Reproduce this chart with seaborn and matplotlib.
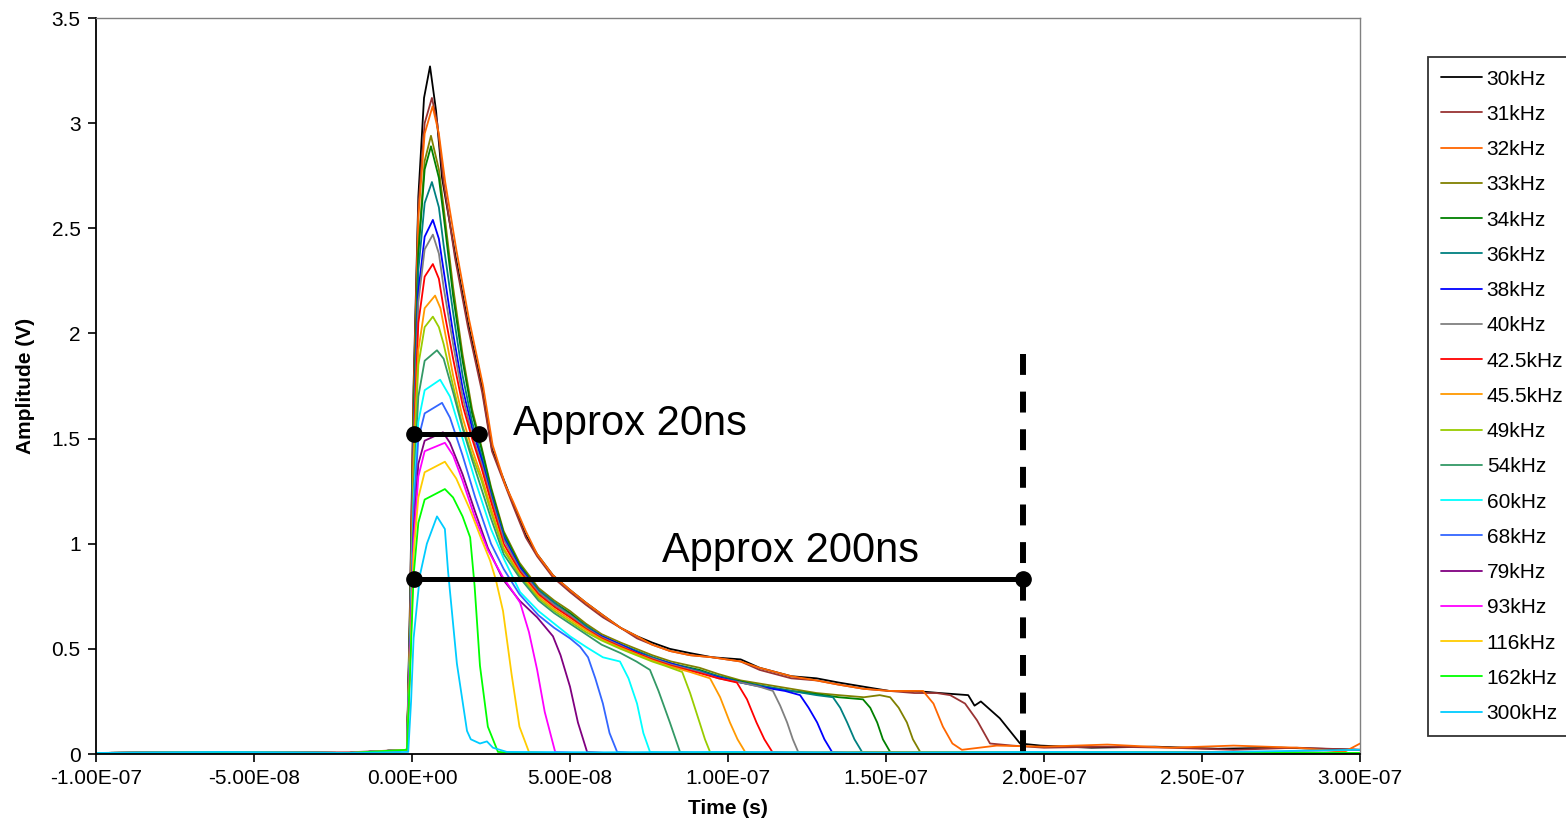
import matplotlib
matplotlib.use("Agg")
import matplotlib.pyplot as plt
import pandas as pd
import seaborn as sns

# Legend entries and trace colours
labels = ["30kHz", "31kHz", "32kHz", "33kHz", "34kHz", "36kHz", "38kHz", "40kHz",
          "42.5kHz", "45.5kHz", "49kHz", "54kHz", "60kHz", "68kHz", "79kHz",
          "93kHz", "116kHz", "162kHz", "300kHz"]
colors = ["#000000", "#993333", "#ff6600", "#808000", "#008000", "#008080",
          "#0000ff", "#808080", "#ff0000", "#ff9900", "#99cc00", "#339966",
          "#00ffff", "#3366ff", "#800080", "#ff00ff", "#ffcc00", "#00ff00",
          "#00ccff"]

# Traces: time in ns, amplitude in V
t_30 = [-100, -60, -20, -1.6, -0.6, 0.5, 2.0, 3.8, 5.7, 7.6, 9.5, 13.6, 17.7, 22.2, 25.3, 29.4, 32.0,
        36.0, 39.6, 44.6, 50.0, 55.0, 60.4, 66.0, 71.2, 76.0, 81.6, 88.0, 95.0, 104.0, 110.0, 120.0,
        128.0, 135.0, 143.0, 151.0, 159.0, 167.0, 176.0, 178.0, 180.0, 186.0, 192.4, 199.0, 215.0,
        235.0, 255.0, 275.0, 300.0]
v_30 = [0.005, 0.008, 0.005, 0.02, 0.75, 1.75, 2.65, 3.12, 3.27, 3.06, 2.74, 2.38, 2.05, 1.74, 1.45,
        1.29, 1.19, 1.04, 0.95, 0.85, 0.78, 0.72, 0.66, 0.60, 0.56, 0.53, 0.50, 0.48, 0.46, 0.45, 0.41,
        0.37, 0.36, 0.34, 0.32, 0.30, 0.30, 0.29, 0.28, 0.23, 0.25, 0.17, 0.05, 0.04, 0.03, 0.035,
        0.025, 0.03, 0.02]

t_31 = [-100, -60, -20, -1.6, -0.6, 0.5, 2.0, 4.0, 6.3, 8.0, 10.0, 13.6, 17.7, 22.2, 25.3, 29.4, 32.0,
        36.0, 39.6, 44.6, 50.0, 55.0, 60.4, 66.0, 71.2, 76.0, 81.6, 88.0, 95.0, 104.0, 110.0, 120.0,
        128.0, 135.0, 143.0, 151.0, 159.0, 166.0, 170.3, 175.0, 178.8, 182.9, 190.0, 200.0, 220.0,
        240.0, 260.0, 280.0, 300.0]
v_31 = [0.005, 0.006, 0.008, 0.02, 0.7, 1.7, 2.6, 3.0, 3.12, 3.0, 2.72, 2.36, 2.03, 1.72, 1.44, 1.28,
        1.18, 1.03, 0.94, 0.84, 0.77, 0.71, 0.65, 0.60, 0.55, 0.52, 0.49, 0.47, 0.46, 0.44, 0.40, 0.36,
        0.35, 0.33, 0.31, 0.30, 0.29, 0.29, 0.28, 0.24, 0.16, 0.05, 0.04, 0.03, 0.035, 0.03, 0.02,
        0.03, 0.02]

t_32 = [-100, -60, -20, -1.6, -0.6, 0.5, 2.0, 4.0, 6.5, 8.5, 10.5, 14.0, 18.0, 22.5, 25.5, 29.5, 32.0,
        36.0, 39.6, 44.6, 50.0, 55.0, 60.4, 66.0, 71.2, 76.0, 81.6, 88.0, 95.0, 104.0, 110.0, 120.0,
        128.0, 135.0, 143.0, 151.0, 158.0, 161.7, 165.0, 168.0, 171.0, 174.0, 185.0, 200.0, 220.0,
        240.0, 260.0, 280.0, 295.0, 300.0]
v_32 = [0.005, 0.01, 0.005, 0.02, 0.65, 1.65, 2.55, 2.95, 3.08, 2.95, 2.72, 2.40, 2.07, 1.75, 1.47,
        1.28, 1.20, 1.06, 0.95, 0.85, 0.78, 0.72, 0.66, 0.60, 0.56, 0.52, 0.49, 0.47, 0.46, 0.44, 0.41,
        0.37, 0.35, 0.33, 0.31, 0.30, 0.30, 0.30, 0.24, 0.13, 0.05, 0.02, 0.04, 0.035, 0.045, 0.03,
        0.04, 0.03, 0.01, 0.05]

t_33 = [-100, -60, -20, -1.6, -0.6, 0.5, 2.0, 4.0, 6.0, 8.5, 10.0, 13.0, 16.0, 19.0, 22.0, 25.0, 29.0,
        34.0, 40.0, 45.0, 50.0, 55.0, 60.0, 66.0, 71.0, 76.0, 82.0, 91.0, 97.0, 104.0, 112.0, 120.0,
        128.0, 135.0, 143.0, 148.0, 151.3, 154.0, 156.6, 158.5, 160.8, 166.0, 220.0, 300.0]
v_33 = [0.005, 0.008, 0.005, 0.02, 0.65, 1.6, 2.4, 2.82, 2.94, 2.78, 2.6, 2.22, 1.9, 1.64, 1.46, 1.27,
        1.06, 0.91, 0.79, 0.73, 0.68, 0.62, 0.57, 0.53, 0.5, 0.47, 0.44, 0.41, 0.38, 0.35, 0.33, 0.31,
        0.29, 0.28, 0.27, 0.28, 0.27, 0.22, 0.15, 0.07, 0.01, 0.005, 0.008, 0.005]

t_34 = [-100, -60, -20, -1.6, -0.6, 0.5, 2.0, 4.0, 6.0, 8.5, 10.0, 13.0, 16.0, 19.0, 22.0, 25.0, 29.0,
        34.0, 40.0, 45.0, 50.0, 55.0, 60.0, 66.0, 71.0, 76.0, 82.0, 91.0, 97.0, 104.0, 112.0, 120.0,
        128.0, 135.0, 142.7, 145.0, 147.2, 149.0, 151.3, 157.0, 220.0, 300.0]
v_34 = [0.005, 0.008, 0.005, 0.02, 0.65, 1.6, 2.38, 2.78, 2.89, 2.74, 2.56, 2.18, 1.87, 1.62, 1.45,
        1.26, 1.05, 0.9, 0.78, 0.72, 0.67, 0.61, 0.56, 0.52, 0.49, 0.46, 0.43, 0.40, 0.37, 0.345, 0.32,
        0.30, 0.285, 0.27, 0.26, 0.22, 0.15, 0.07, 0.01, 0.005, 0.008, 0.005]

t_36 = [-100, -60, -20, -1.6, -0.6, 0.5, 2.0, 4.0, 6.3, 8.5, 10.0, 13.0, 16.0, 19.0, 22.0, 25.0, 29.0,
        34.0, 40.0, 45.0, 50.0, 55.0, 60.0, 66.0, 71.0, 76.0, 82.0, 91.0, 97.0, 104.0, 112.0, 120.0,
        128.0, 133.2, 135.5, 137.7, 140.0, 142.4, 148.0, 220.0, 300.0]
v_36 = [0.005, 0.008, 0.005, 0.02, 0.62, 1.55, 2.3, 2.62, 2.72, 2.6, 2.42, 2.1, 1.8, 1.58, 1.42, 1.24,
        1.04, 0.89, 0.78, 0.72, 0.66, 0.61, 0.56, 0.52, 0.49, 0.46, 0.43, 0.395, 0.37, 0.34, 0.32,
        0.30, 0.28, 0.27, 0.22, 0.15, 0.07, 0.01, 0.005, 0.008, 0.005]

t_38 = [-100, -60, -20, -1.6, -0.6, 0.5, 2.0, 4.0, 6.6, 8.5, 10.0, 13.0, 16.0, 19.0, 22.0, 25.0, 29.0,
        34.0, 40.0, 45.0, 50.0, 55.0, 60.0, 66.0, 71.0, 76.0, 82.0, 91.0, 97.0, 104.0, 112.0, 118.0,
        122.8, 125.5, 128.2, 130.5, 132.9, 138.0, 220.0, 300.0]
v_38 = [0.005, 0.008, 0.005, 0.02, 0.6, 1.5, 2.2, 2.46, 2.54, 2.45, 2.3, 2.0, 1.74, 1.55, 1.4, 1.23,
        1.03, 0.89, 0.77, 0.71, 0.66, 0.6, 0.56, 0.52, 0.485, 0.455, 0.43, 0.39, 0.365, 0.34, 0.315,
        0.30, 0.28, 0.22, 0.15, 0.07, 0.01, 0.005, 0.008, 0.005]

t_40 = [-100, -60, -20, -1.6, -0.6, 0.5, 2.0, 4.0, 6.6, 8.5, 10.0, 13.0, 16.0, 19.0, 22.0, 25.0, 29.0,
        34.0, 40.0, 45.0, 50.0, 55.0, 60.0, 66.0, 71.0, 76.0, 82.0, 91.0, 97.0, 104.0, 110.0, 114.2,
        116.5, 118.7, 120.5, 122.2, 128.0, 220.0, 300.0]
v_40 = [0.005, 0.008, 0.005, 0.02, 0.6, 1.5, 2.15, 2.4, 2.47, 2.38, 2.22, 1.95, 1.7, 1.52, 1.38, 1.22,
        1.02, 0.88, 0.77, 0.71, 0.66, 0.6, 0.555, 0.515, 0.48, 0.455, 0.425, 0.39, 0.36, 0.34, 0.32,
        0.30, 0.23, 0.15, 0.07, 0.01, 0.005, 0.008, 0.005]

t_425 = [-100, -60, -20, -1.6, -0.6, 0.5, 2.0, 4.0, 6.6, 8.5, 10.0, 13.0, 16.0, 19.0, 22.0, 25.0, 29.0,
         34.0, 40.0, 45.0, 50.0, 55.0, 60.0, 66.0, 71.0, 76.0, 82.0, 91.0, 97.0, 102.8, 106.0, 109.0,
         111.5, 114.0, 120.0, 220.0, 300.0]
v_425 = [0.005, 0.008, 0.005, 0.02, 0.58, 1.45, 2.05, 2.27, 2.33, 2.26, 2.12, 1.88, 1.66, 1.5, 1.36,
         1.2, 1.0, 0.87, 0.76, 0.7, 0.65, 0.595, 0.55, 0.51, 0.48, 0.45, 0.42, 0.385, 0.36, 0.34, 0.26,
         0.15, 0.07, 0.01, 0.005, 0.008, 0.005]

t_455 = [-100, -60, -20, -1.6, -0.6, 0.5, 2.0, 4.0, 7.3, 9.0, 10.5, 13.0, 16.0, 19.0, 22.0, 25.0, 29.0,
         34.0, 40.0, 45.0, 50.0, 55.0, 60.0, 66.0, 71.0, 76.0, 82.0, 88.0, 94.3, 97.5, 100.6, 103.0,
         105.4, 111.0, 220.0, 300.0]
v_455 = [0.005, 0.008, 0.005, 0.02, 0.55, 1.4, 1.92, 2.12, 2.18, 2.12, 2.0, 1.8, 1.6, 1.45, 1.32, 1.17,
         0.98, 0.86, 0.75, 0.69, 0.64, 0.59, 0.545, 0.505, 0.475, 0.445, 0.415, 0.39, 0.36, 0.27, 0.15,
         0.07, 0.01, 0.005, 0.008, 0.005]

t_49 = [-100, -60, -20, -1.6, -0.6, 0.5, 2.0, 4.0, 6.6, 8.5, 10.0, 13.0, 16.0, 19.0, 22.0, 25.0, 29.0,
        34.0, 40.0, 45.0, 50.0, 55.0, 60.0, 66.0, 71.0, 76.0, 80.0, 85.5, 88.0, 91.0, 92.7, 94.3, 100.0,
        220.0, 300.0]
v_49 = [0.005, 0.008, 0.005, 0.02, 0.55, 1.35, 1.85, 2.03, 2.08, 2.03, 1.95, 1.75, 1.56, 1.42, 1.3,
        1.15, 0.97, 0.85, 0.74, 0.68, 0.63, 0.58, 0.54, 0.5, 0.47, 0.44, 0.42, 0.39, 0.29, 0.15, 0.07,
        0.01, 0.005, 0.008, 0.005]

t_54 = [-100, -60, -20, -1.6, -0.6, 0.5, 2.0, 4.0, 7.9, 10.0, 13.0, 16.0, 19.0, 22.0, 25.0, 29.0, 34.0,
        40.0, 45.0, 50.0, 55.0, 60.0, 66.0, 71.0, 75.3, 78.0, 81.6, 84.8, 90.0, 220.0, 300.0]
v_54 = [0.005, 0.008, 0.005, 0.02, 0.5, 1.25, 1.7, 1.87, 1.92, 1.88, 1.72, 1.55, 1.4, 1.26, 1.12, 0.95,
        0.84, 0.73, 0.67, 0.62, 0.57, 0.52, 0.48, 0.44, 0.40, 0.3, 0.15, 0.01, 0.005, 0.008, 0.005]

t_60 = [-100, -60, -20, -1.6, -0.6, 0.5, 2.0, 4.0, 8.9, 12.0, 16.0, 20.0, 25.0, 29.0, 34.2, 40.0, 45.0,
        50.0, 55.0, 60.4, 65.8, 68.5, 71.2, 73.2, 75.3, 81.0, 220.0, 300.0]
v_60 = [0.005, 0.008, 0.005, 0.02, 0.5, 1.2, 1.58, 1.73, 1.78, 1.7, 1.5, 1.3, 1.07, 0.93, 0.77, 0.68,
        0.62, 0.56, 0.51, 0.46, 0.44, 0.36, 0.24, 0.1, 0.01, 0.005, 0.008, 0.005]

t_68 = [-100, -60, -20, -1.6, -0.6, 0.5, 2.0, 4.0, 9.5, 12.0, 16.0, 20.0, 25.0, 29.0, 34.0, 40.0, 45.0,
        50.0, 53.2, 55.7, 58.0, 60.4, 62.5, 64.9, 70.0, 220.0, 300.0]
v_68 = [0.005, 0.008, 0.005, 0.02, 0.48, 1.15, 1.5, 1.62, 1.67, 1.6, 1.42, 1.22, 1.0, 0.88, 0.76, 0.66,
        0.6, 0.55, 0.51, 0.46, 0.36, 0.24, 0.1, 0.01, 0.005, 0.008, 0.005]

t_79 = [-100, -60, -20, -1.6, -0.6, 0.5, 2.0, 4.0, 9.8, 12.0, 16.0, 20.0, 24.0, 28.8, 34.0, 39.6, 44.6,
        47.0, 50.0, 52.5, 55.4, 61.0, 220.0, 300.0]
v_79 = [0.005, 0.008, 0.005, 0.02, 0.45, 1.05, 1.38, 1.49, 1.53, 1.48, 1.33, 1.15, 0.98, 0.83, 0.73,
        0.65, 0.56, 0.47, 0.32, 0.15, 0.01, 0.005, 0.008, 0.005]

t_93 = [-100, -60, -20, -1.6, -0.6, 0.5, 2.0, 4.0, 10.4, 13.0, 16.0, 20.0, 24.0, 28.8, 32.0, 34.2, 37.0,
        39.6, 42.0, 45.3, 51.0, 220.0, 300.0]
v_93 = [0.005, 0.008, 0.005, 0.02, 0.45, 1.0, 1.32, 1.44, 1.48, 1.42, 1.3, 1.12, 0.97, 0.84, 0.77, 0.72,
        0.58, 0.40, 0.2, 0.01, 0.005, 0.008, 0.005]

t_116 = [-100, -60, -20, -1.6, -0.6, 0.5, 2.0, 4.0, 10.4, 14.0, 18.4, 22.0, 24.7, 26.5, 28.8, 31.5,
         34.0, 37.0, 43.0, 220.0, 300.0]
v_116 = [0.005, 0.008, 0.005, 0.02, 0.42, 0.95, 1.22, 1.34, 1.39, 1.31, 1.16, 1.02, 0.92, 0.83, 0.68,
         0.38, 0.13, 0.01, 0.005, 0.008, 0.005]

t_162 = [-100, -60, -20, -1.6, -0.6, 0.5, 2.0, 4.0, 10.4, 13.0, 16.0, 18.4, 19.8, 21.5, 24.0, 27.2,
         33.0, 220.0, 300.0]
v_162 = [0.005, 0.008, 0.005, 0.02, 0.4, 0.85, 1.1, 1.21, 1.26, 1.22, 1.13, 1.03, 0.8, 0.42, 0.13, 0.01,
         0.005, 0.008, 0.005]

t_300 = [-100, -60, -20, -1.2, -0.3, 0.5, 2.5, 4.7, 7.9, 10.4, 11.4, 14.2, 17.4, 18.6, 21.5, 23.7, 25.6,
         27.8, 30.0, 60.0, 100.0, 150.0, 200.0, 250.0, 300.0]
v_300 = [0.005, 0.01, 0.005, 0.01, 0.25, 0.55, 0.85, 1.0, 1.13, 1.07, 0.87, 0.43, 0.11, 0.07, 0.05,
         0.06, 0.03, 0.02, 0.01, 0.008, 0.01, 0.006, 0.01, 0.008, 0.02]

series = [(t_30, v_30), (t_31, v_31), (t_32, v_32), (t_33, v_33), (t_34, v_34), (t_36, v_36),
          (t_38, v_38), (t_40, v_40), (t_425, v_425), (t_455, v_455), (t_49, v_49), (t_54, v_54),
          (t_60, v_60), (t_68, v_68), (t_79, v_79), (t_93, v_93), (t_116, v_116), (t_162, v_162),
          (t_300, v_300)]

# Hand-drawn annotation marks (ns / V)
bar_20_ns = [0.6, 21.2]
bar_20_v = 1.52
bar_200_ns = [0.6, 193.2]
bar_200_v = 0.832
cut_ns = 193.2
cut_v = [1.9, -0.08]

x_ticks = [-1.0e-7, -5.0e-8, 0.0, 5.0e-8, 1.0e-7, 1.5e-7, 2.0e-7, 2.5e-7, 3.0e-7]
y_ticks = [0, 0.5, 1, 1.5, 2, 2.5, 3, 3.5]

frames = []
for label, (t, v) in zip(labels, series):
    part = pd.DataFrame({"time_ns": t, "amp": v})
    part["freq"] = label
    frames.append(part)
df = pd.concat(frames, ignore_index=True)
df["time"] = df["time_ns"] * 1e-9

sns.set_style("ticks")
plt.rcParams["font.family"] = ["Liberation Sans", "DejaVu Sans"]
plt.rcParams["text.color"] = "black"
plt.rcParams["axes.labelcolor"] = "black"

fig = plt.figure(figsize=(15.66, 8.34), dpi=100)
ax = fig.add_axes([0.0613, 0.0959, 0.8072, 0.8825])

sns.lineplot(data=df, x="time", y="amp", hue="freq", hue_order=labels,
             palette=colors, estimator=None, sort=False, linewidth=1.3, ax=ax)

# annotations
ax.plot([x * 1e-9 for x in bar_20_ns], [bar_20_v, bar_20_v], color="black", lw=3.6,
        marker="o", ms=11, solid_capstyle="butt")
ax.plot([x * 1e-9 for x in bar_200_ns], [bar_200_v, bar_200_v], color="black", lw=3.6,
        marker="o", ms=11, solid_capstyle="butt")
ax.plot([cut_ns * 1e-9, cut_ns * 1e-9], cut_v, color="black", lw=4.3,
        linestyle=(0, (3.5, 2.8)), clip_on=False)
ax.text(32.0e-9, 1.517, "Approx 20ns", fontsize=30, va="baseline", ha="left", color="black")
ax.text(79.1e-9, 0.913, "Approx 200ns", fontsize=30, va="baseline", ha="left", color="black")

ax.set_xlim(-1e-7, 3e-7)
ax.set_ylim(0, 3.5)
ax.set_xticks(x_ticks)
ax.set_xticklabels([f"{v:.2E}" for v in x_ticks])
ax.set_yticks(y_ticks)
ax.set_yticklabels([f"{v:g}" for v in y_ticks])
ax.tick_params(direction="out", length=6, width=1.2, labelsize=15, colors="black", pad=5)

for side in ["top", "right"]:
    ax.spines[side].set_color("#808080")
    ax.spines[side].set_linewidth(1.0)
for side in ["left", "bottom"]:
    ax.spines[side].set_color("black")
    ax.spines[side].set_linewidth(1.3)

ax.set_xlabel("Time (s)", fontsize=15, fontweight="bold", labelpad=8, color="black")
ax.set_ylabel("Amplitude (V)", fontsize=15, fontweight="bold", labelpad=12, color="black")

handles, lbls = ax.get_legend_handles_labels()
leg = ax.legend(handles, lbls, loc="upper left", bbox_to_anchor=(1.054, 0.947),
                borderaxespad=0, frameon=True, fancybox=False, edgecolor="black",
                fontsize=15, handlelength=2.0, handletextpad=0.2, labelspacing=0.78,
                borderpad=0.6)
leg.get_frame().set_linewidth(1.3)
for txt in leg.get_texts():
    txt.set_color("black")

fig.savefig("out.png", dpi=100)
